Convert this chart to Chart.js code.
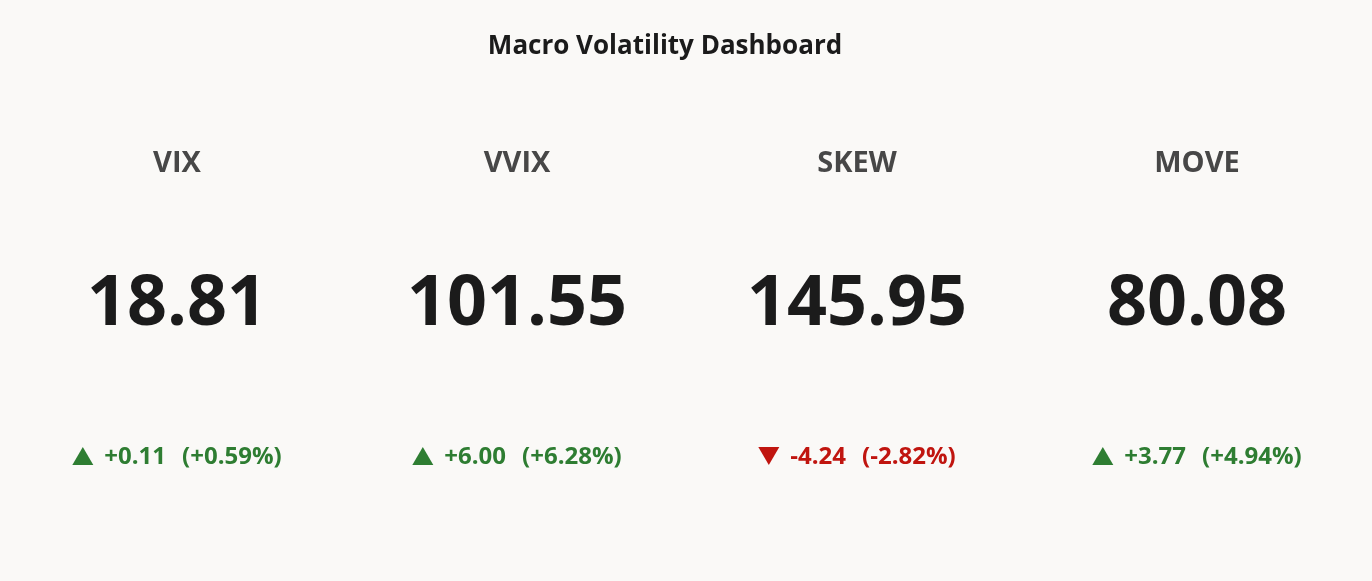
<!DOCTYPE html>
<html>
<head>
<meta charset="utf-8">
<script src="https://cdn.jsdelivr.net/npm/chart.js@4/dist/chart.umd.min.js"></script>
<style>
  html, body { margin: 0; padding: 0; background: #faf9f7; }
  #wrap { width: 1372px; height: 581px; }
</style>
</head>
<body>
<div id="wrap"><canvas id="kpi"></canvas></div>
<script>
// Dashboard data
const tickers = ["VIX", "VVIX", "SKEW", "MOVE"];
const levels = [18.81, 101.55, 145.95, 80.08];
const changes = [0.11, 6.00, -4.24, 3.77];
const pctChanges = [0.59, 6.28, -2.82, 4.94];

const UP = "#2e7d32";
const DOWN = "#c0150f";
const FONT = "'Open Sans', 'Noto Sans', sans-serif";

function signed(v) {
  return (v >= 0 ? "+" : "") + v.toFixed(2);
}

// draws title and each tile's text at the x scale's category positions
const tilePlugin = {
  id: "tiles",
  afterDraw(chart) {
    const ctx = chart.ctx;
    const x = chart.scales.x;
    ctx.save();
    ctx.textAlign = "center";
    ctx.textBaseline = "middle";

    ctx.fillStyle = "#1b1b1b";
    ctx.font = "bold 26px " + FONT;
    ctx.fillText("Macro Volatility Dashboard", 665, 47);

    tickers.forEach((name, i) => {
      const cx = x.getPixelForValue(i);
      ctx.fillStyle = "#474747";
      ctx.font = "bold 29px " + FONT;
      ctx.fillText(name, cx, 164);

      ctx.fillStyle = "#1b1b1b";
      ctx.font = "bold 70px " + FONT;
      ctx.fillText(levels[i].toFixed(2), cx, 305);

      const up = changes[i] >= 0;
      const a = signed(changes[i]);
      const b = "(" + signed(pctChanges[i]) + "%)";
      ctx.font = "bold 24px " + FONT;
      const wa = ctx.measureText(a).width;
      const wb = ctx.measureText(b).width;
      const tri = 21, gap = 11, mid = 16;
      const total = tri + gap + wa + mid + wb;
      const left = cx - total / 2;
      ctx.fillStyle = up ? UP : DOWN;
      ctx.beginPath();
      if (up) {
        ctx.moveTo(left, 465); ctx.lineTo(left + tri, 465); ctx.lineTo(left + tri / 2, 447);
      } else {
        ctx.moveTo(left, 447); ctx.lineTo(left + tri, 447); ctx.lineTo(left + tri / 2, 465);
      }
      ctx.closePath();
      ctx.fill();
      ctx.textAlign = "left";
      ctx.fillText(a, left + tri + gap, 457);
      ctx.fillText(b, left + tri + gap + wa + mid, 457);
      ctx.textAlign = "center";
    });
    ctx.restore();
  }
};

new Chart(document.getElementById("kpi"), {
  type: "scatter",
  data: {
    labels: tickers,
    datasets: [{ data: [], pointRadius: 0 }]
  },
  options: {
    responsive: true,
    maintainAspectRatio: false,
    animation: false,
    layout: { padding: { left: 7, right: 5, top: 0, bottom: 0 } },
    plugins: {
      legend: { display: false },
      tooltip: { enabled: false },
      title: { display: false }
    },
    scales: {
      x: { type: "category", offset: true, display: false },
      y: { display: false, min: 0, max: 1 }
    }
  },
  plugins: [tilePlugin]
});
</script>
</body>
</html>
